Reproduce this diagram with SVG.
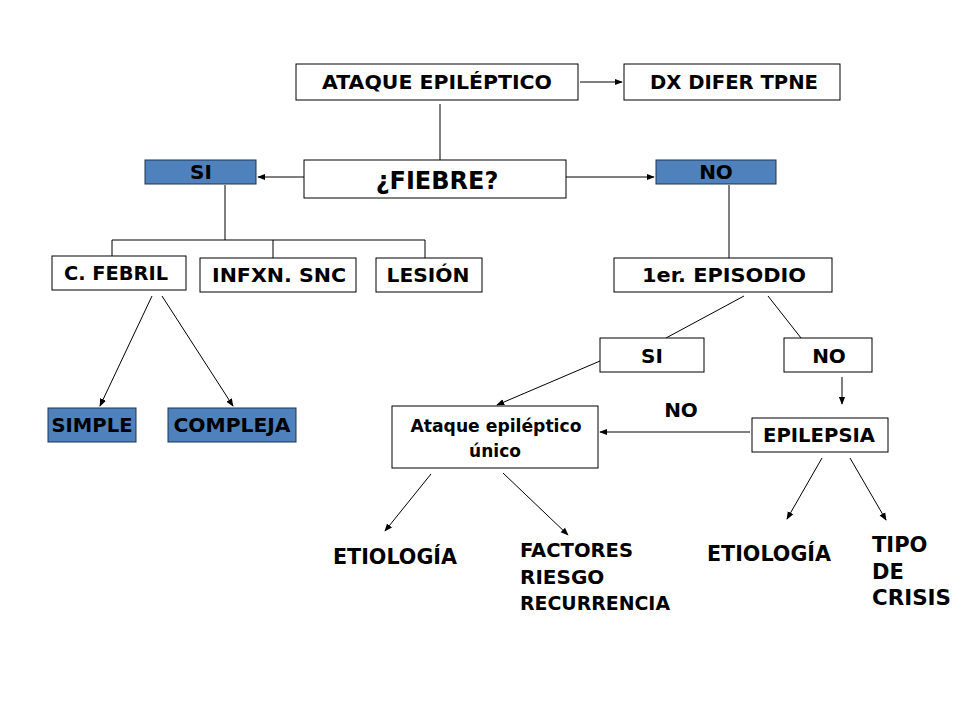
<svg xmlns="http://www.w3.org/2000/svg" width="960" height="720" viewBox="0 0 960 720">
<defs>
<style>
.box{fill:#fff;stroke:#000;stroke-width:1}
.blue{fill:#4F81BD;stroke:#1F3552;stroke-width:1}
.t{font-family:"DejaVu Sans","Liberation Sans",sans-serif;font-weight:bold;font-size:20px;fill:#000;text-anchor:middle}
.tl{font-family:"DejaVu Sans","Liberation Sans",sans-serif;font-weight:bold;font-size:20px;fill:#000}
.c{stroke:#000;stroke-width:1;fill:none}
.a{stroke:#000;stroke-width:1;fill:none;marker-end:url(#ah)}
</style>
<marker id="ah" viewBox="0 0 10 10" refX="9" refY="5" markerWidth="8" markerHeight="8" markerUnits="userSpaceOnUse" orient="auto">
<path d="M0,1 L10,5 L0,9 z" fill="#000"/>
</marker>
</defs>
<rect width="960" height="720" fill="#fff"/>

<g id="connectors">
<line class="a" x1="580" y1="82" x2="622" y2="82"/>
<line class="c" x1="440" y1="104" x2="440" y2="160"/>
<line class="a" x1="304" y1="177" x2="258" y2="177"/>
<line class="a" x1="566" y1="177" x2="654" y2="177"/>
<line class="c" x1="225" y1="185" x2="225" y2="240"/>
<polyline class="c" points="112,256 112,240 425,240 425,259"/>
<line class="c" x1="273" y1="240" x2="273" y2="259"/>
<line class="c" x1="729" y1="185" x2="729" y2="259"/>
<line class="a" x1="152" y1="296" x2="100" y2="406"/>
<line class="a" x1="162" y1="296" x2="233" y2="406"/>
<line class="c" x1="744" y1="296" x2="666" y2="338"/>
<line class="c" x1="768" y1="296" x2="801" y2="338"/>
<line class="a" x1="600" y1="361" x2="497" y2="405"/>
<line class="a" x1="842" y1="377" x2="842" y2="404"/>
<line class="a" x1="750" y1="432" x2="600" y2="432"/>
<line class="a" x1="431" y1="474" x2="385" y2="531"/>
<line class="a" x1="503" y1="473" x2="568" y2="535"/>
<line class="a" x1="822" y1="458" x2="787" y2="519"/>
<line class="a" x1="850" y1="458" x2="886" y2="520"/>
</g>

<g id="ataque"><rect class="box" x="296" y="64" width="282" height="36"/><text class="t" x="437" y="89" textLength="230" lengthAdjust="spacingAndGlyphs">ATAQUE EPILÉPTICO</text></g>
<g id="dx"><rect class="box" x="624" y="64" width="216" height="36"/><text class="t" x="734" y="89" textLength="168" lengthAdjust="spacingAndGlyphs">DX DIFER TPNE</text></g>
<g id="fiebre"><rect class="box" x="304" y="160" width="262" height="38"/><text class="t" x="437" y="189" style="font-size:24px">¿FIEBRE?</text></g>
<g id="si1"><rect class="blue" x="145" y="160" width="111" height="24"/><text class="t" x="201" y="179">SI</text></g>
<g id="no1"><rect class="blue" x="656" y="160" width="120" height="24"/><text class="t" x="716" y="179">NO</text></g>
<g id="cfebril"><rect class="box" x="52" y="256" width="134" height="34"/><text class="t" x="116" y="280" textLength="104" lengthAdjust="spacingAndGlyphs">C. FEBRIL</text></g>
<g id="infxn"><rect class="box" x="200" y="258" width="156" height="34"/><text class="t" x="279" y="282" textLength="134" lengthAdjust="spacingAndGlyphs">INFXN. SNC</text></g>
<g id="lesion"><rect class="box" x="376" y="258" width="106" height="34"/><text class="t" x="428" y="282" textLength="83" lengthAdjust="spacingAndGlyphs">LESIÓN</text></g>
<g id="episodio"><rect class="box" x="614" y="258" width="218" height="34"/><text class="t" x="724" y="282" textLength="164" lengthAdjust="spacingAndGlyphs">1er. EPISODIO</text></g>
<g id="simple"><rect class="blue" x="48" y="408" width="88" height="34"/><text class="t" x="92" y="432" textLength="81" lengthAdjust="spacingAndGlyphs">SIMPLE</text></g>
<g id="compleja"><rect class="blue" x="168" y="408" width="128" height="34"/><text class="t" x="232" y="432" textLength="117" lengthAdjust="spacingAndGlyphs">COMPLEJA</text></g>
<g id="si2"><rect class="box" x="600" y="338" width="104" height="34"/><text class="t" x="652" y="363">SI</text></g>
<g id="no2"><rect class="box" x="784" y="338" width="88" height="34"/><text class="t" x="829" y="363">NO</text></g>
<g id="unico"><rect class="box" x="392" y="406" width="206" height="62"/><text class="t" x="496" y="432" style="font-size:17px" textLength="171" lengthAdjust="spacingAndGlyphs">Ataque epiléptico</text><text class="t" x="495" y="457" style="font-size:17px">único</text></g>
<g id="epilepsia"><rect class="box" x="752" y="418" width="136" height="34"/><text class="t" x="819" y="442" textLength="112" lengthAdjust="spacingAndGlyphs">EPILEPSIA</text></g>
<g id="nolabel"><text class="t" x="681" y="417" style="font-size:20px">NO</text></g>
<g id="etio1"><text class="t" x="395" y="564" style="font-size:21px" textLength="124" lengthAdjust="spacingAndGlyphs">ETIOLOGÍA</text></g>
<g id="factores"><text class="tl" x="520" y="557" textLength="113" lengthAdjust="spacingAndGlyphs">FACTORES</text><text class="tl" x="520" y="584">RIESGO</text><text class="tl" x="520" y="610" textLength="150" lengthAdjust="spacingAndGlyphs">RECURRENCIA</text></g>
<g id="etio2"><text class="t" x="769" y="561" style="font-size:21px" textLength="124" lengthAdjust="spacingAndGlyphs">ETIOLOGÍA</text></g>
<g id="tipo"><g style="font-size:21px"><text class="tl" x="872" y="552" style="font-size:21px">TIPO</text><text class="tl" x="872" y="579" style="font-size:21px">DE</text><text class="tl" x="872" y="605" style="font-size:21px" textLength="79" lengthAdjust="spacingAndGlyphs">CRISIS</text></g></g>
</svg>
